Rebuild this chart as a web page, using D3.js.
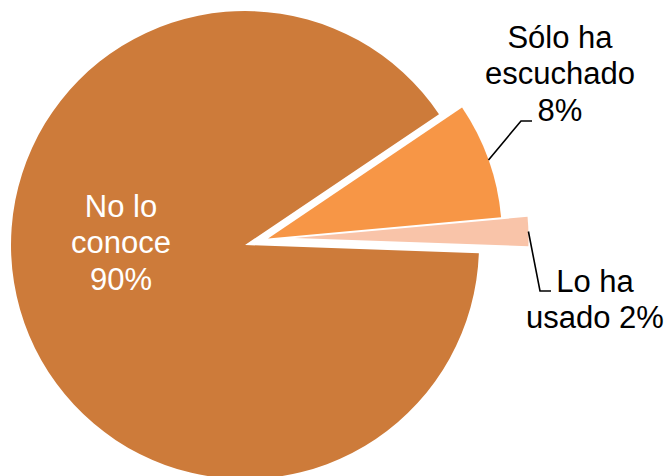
<!DOCTYPE html>
<html lang="es">
	<head>
		<meta charset="UTF-8">
		<title>Pie</title>
		<script src="https://cdn.jsdelivr.net/npm/d3@7/dist/d3.min.js"></script>
		<style>
			body { margin: 0; background: #fff; }
			text { font-family: "Liberation Sans", Arial, sans-serif; font-size: 31px; }
		</style>
	</head>
	<body>
		<svg id="chart" width="669" height="476"></svg>
		<script>
// data
var categories = ["No lo conoce", "Sólo ha escuchado", "Lo ha usado"];
var values = [90, 8, 2];
var labelLines = [["No lo", "conoce", "90%"], ["Sólo ha", "escuchado", "8%"], ["Lo ha", "usado 2%"]];

// styles / layout
var colors = ["#CD7B3A", "#F79646", "#F9C4A9"];
var explode = [{d: 0, a: 0}, {d: 24, a: 74}, {d: 50, a: 82}];   // px, degrees from 12 o'clock
var labelPos = [
	{x: 121, y: 217, fill: "#fff"},
	{x: 560, y: 48, fill: "#000", leader: [[521, 121], [532, 121]]},
	{x: 595, y: 292, fill: "#000", leader: [[540, 291], [551, 291]]}
];
var lineH = 36.3;

var svg = d3.select("#chart");
var cx = 245, cy = 245, r = 234;
var rad = deg => deg * Math.PI / 180;

var pie = d3.pie().sort(null).startAngle(rad(92)).endAngle(rad(92) + 2 * Math.PI);
var arcs = pie(values);
var arcMkr = d3.arc().innerRadius(0).outerRadius(r);

var g = svg.append("g").attr("transform", `translate(${cx},${cy})`);

arcs.forEach(function(a, i) {
	var e = explode[i];
	var ox = e.d * Math.sin(rad(e.a)), oy = -e.d * Math.cos(rad(e.a));
	var sg = g.append("g").attr("transform", `translate(${ox},${oy})`);
	sg.append("path").attr("d", arcMkr(a)).attr("fill", colors[i]);

	var lp = labelPos[i];
	if (lp.leader) {
		var mid = (a.startAngle + a.endAngle) / 2;
		var sx = cx + ox + r * Math.sin(mid), sy = cy + oy - r * Math.cos(mid);
		var pts = [[sx, sy]].concat(lp.leader);
		svg.append("path")
			.attr("d", d3.line()(pts))
			.attr("fill", "none")
			.attr("stroke", "#000")
			.attr("stroke-width", 1.6);
	}
	var t = svg.append("text")
		.attr("text-anchor", "middle")
		.attr("fill", lp.fill);
	labelLines[i].forEach(function(s, j) {
		t.append("tspan").attr("x", lp.x).attr("y", lp.y + j * lineH).text(s);
	});
});
		</script>
	</body>
</html>
